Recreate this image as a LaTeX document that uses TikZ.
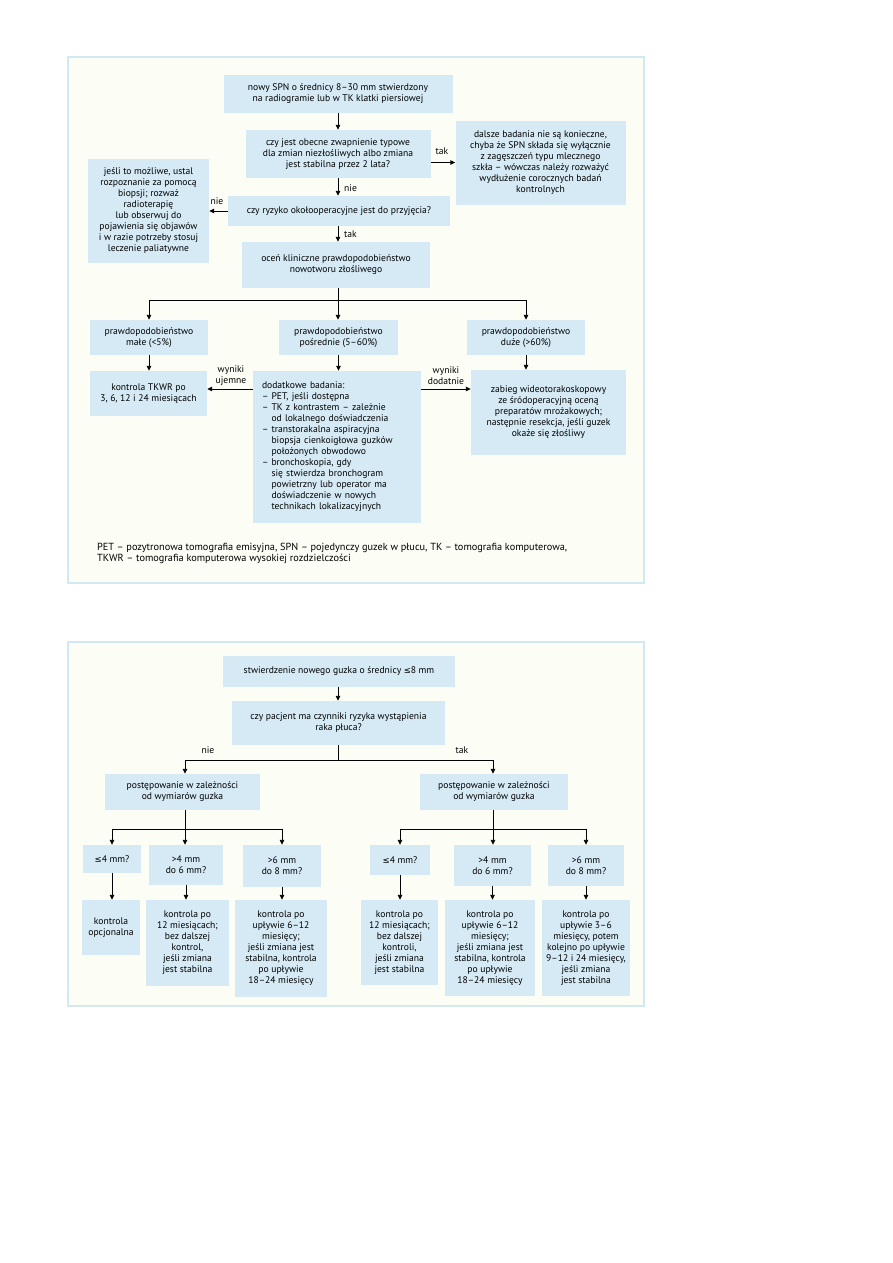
\documentclass[tikz,border=0pt]{standalone}
\usepackage{fontspec}
\setmainfont{PT Sans}
\newfontfamily\symf{DejaVu Sans}
\usetikzlibrary{arrows.meta}
\definecolor{boxblue}{HTML}{D5EAF5}
\definecolor{panelfill}{HTML}{FCFDF5}
\definecolor{panelline}{HTML}{D2E9F3}
\newcommand{\mle}{{\symf\fontsize{8.5}{10}\selectfont ≤}}
\begin{document}
\begin{tikzpicture}[x=1pt,y=-1pt,
  box/.style={fill=boxblue, inner sep=0pt, align=center, font=\fontsize{9.6}{11}\selectfont},
  lbl/.style={inner sep=0pt, align=center, font=\fontsize{9.6}{11}\selectfont},
  arr/.style={line width=0.9pt, -{Triangle[length=5pt,width=4.5pt]}},
  ln/.style={line width=0.9pt},
  panel/.style={fill=panelfill, draw=panelline, line width=2.5pt}]
\useasboundingbox (0,0) rectangle (893,1263);
\fill[white] (0,0) rectangle (893,1263);
% panels
\draw[panel] (68,57) rectangle (644,583);
\draw[panel] (68,642) rectangle (644,1006);
\coordinate (ax) at (338,0);
% ---------- panel 1 ----------
\node[box, minimum width=229pt, minimum height=38pt] (b1) at (338,94) {nowy SPN o średnicy 8–30 mm stwierdzony\\na radiogramie lub w TK klatki piersiowej};
\node[box, minimum width=185pt, minimum height=48pt] (b2) at (338,154) {czy jest obecne zwapnienie typowe\\dla zmian niezłośliwych albo zmiana\\jest stabilna przez 2 lata?};
\node[box, minimum width=170pt, minimum height=84pt] (b3) at (540.5,162.5) {dalsze badania nie są konieczne,\\chyba że SPN składa się wyłącznie\\z zagęszczeń typu mlecznego\\szkła – wówczas należy rozważyć\\wydłużenie corocznych badań\\kontrolnych};
\node[box, minimum width=222pt, minimum height=30pt] (b4) at (339,211) {czy ryzyko okołooperacyjne jest do przyjęcia?};
\node[box, minimum width=121pt, minimum height=104pt] (bL) at (148.5,210.5) {jeśli to możliwe, ustal\\rozpoznanie za pomocą\\biopsji; rozważ\\radioterapię\\lub obserwuj do\\pojawienia się objawów\\i w razie potrzeby stosuj\\leczenie paliatywne};
\node[box, minimum width=188pt, minimum height=46pt] (b5) at (336,265) {oceń kliniczne prawdopodobieństwo\\nowotworu złośliwego};
\node[box, minimum width=118pt, minimum height=35pt] (r6a) at (149,337.5) {prawdopodobieństwo\\małe (<5\%)};
\node[box, minimum width=119pt, minimum height=35pt] (r6b) at (338.5,337.5) {prawdopodobieństwo\\pośrednie (5–60\%)};
\node[box, minimum width=118pt, minimum height=35pt] (r6c) at (526,337.5) {prawdopodobieństwo\\duże (>60\%)};
\node[box, minimum width=117pt, minimum height=45pt] (r7a) at (148.5,393.5) {kontrola TKWR po\\3, 6, 12 i 24 miesiącach};
\node[box, minimum width=168pt, minimum height=152pt, text width=150pt, align=left] (r7b) at (337,447) {dodatkowe badania:\\
– PET, jeśli dostępna\\
– TK z kontrastem – zależnie\\
\phantom{– }od lokalnego doświadczenia\\
– transtorakalna aspiracyjna\\
\phantom{– }biopsja cienkoigłowa guzków\\
\phantom{– }położonych obwodowo\\
– bronchoskopia, gdy\\
\phantom{– }się stwierdza bronchogram\\
\phantom{– }powietrzny lub operator ma\\
\phantom{– }doświadczenie w nowych\\
\phantom{– }technikach lokalizacyjnych};
\node[box, minimum width=155pt, minimum height=85pt] (r7c) at (548.5,412.5) {zabieg wideotorakoskopowy\\ze śródoperacyjną oceną\\preparatów mrożakowych;\\następnie resekcja, jeśli guzek\\okaże się złośliwy};
\node[lbl, anchor=west, align=left, font=\fontsize{10.3}{11}\selectfont] (foot) at (97,553) {PET – pozytronowa tomografia emisyjna, SPN – pojedynczy guzek w płucu, TK – tomografia komputerowa,\\TKWR – tomografia komputerowa wysokiej rozdzielczości};
% connectors panel 1
\draw[arr] (b1.south -| ax) -- (b2.north -| ax);
\draw[arr] (b2.east |- b3.west) -- (b3.west);
\node[lbl] (ltak1) at (442,151) {tak};
\draw[arr] (b2.south -| ax) -- (b4.north -| ax);
\node[lbl, anchor=west] (lnie1) at (344,188) {nie};
\draw[arr] (b4.west) -- (bL.east |- b4.west);
\node[lbl] (lnie2) at (217,201) {nie};
\draw[arr] (b4.south -| ax) -- (b5.north -| ax);
\node[lbl, anchor=west] (ltak2) at (344,234) {tak};
\coordinate (br1) at (338,300);
\draw[ln] (b5.south -| ax) -- (br1);
\draw[ln] (r6a.north |- br1) -- (r6c.north |- br1);
\draw[arr] (r6a.north |- br1) -- (r6a.north);
\draw[arr] (br1) -- (r6b.north -| br1);
\draw[arr] (r6c.north |- br1) -- (r6c.north);
\draw[arr] (r6a.south) -- (r6a.south |- r7a.north);
\draw[arr] (r6b.south) -- (r6b.south |- r7b.north);
\draw[arr] (r6c.south) -- (r6c.south |- r7c.north);
\coordinate (wy) at (0,389);
\draw[arr] (r7b.west |- wy) -- (r7a.east |- wy);
\draw[arr] (r7b.east |- wy) -- (r7c.west |- wy);
\node[lbl] (lwu) at (231,376) {wyniki\\ujemne};
\node[lbl] (lwd) at (446,376) {wyniki\\dodatnie};
% ---------- panel 2 ----------
\node[box, minimum width=232pt, minimum height=31pt] (c1) at (339,671.5) {stwierdzenie nowego guzka o średnicy \mle8 mm};
\node[box, minimum width=213pt, minimum height=44pt] (c2) at (338.5,723) {czy pacjent ma czynniki ryzyka wystąpienia\\raka płuca?};
\node[box, minimum width=155pt, minimum height=36pt] (cL) at (182.5,792) {postępowanie w zależności\\od wymiarów guzka};
\node[box, minimum width=148pt, minimum height=36pt] (cR) at (494,792) {postępowanie w zależności\\od wymiarów guzka};
\node[box, minimum width=58pt, minimum height=28pt] (L1) at (112,859) {\mle4 mm?};
\node[box, minimum width=74pt, minimum height=40pt] (L2) at (186,865) {>4 mm\\do 6 mm?};
\node[box, minimum width=78pt, minimum height=42pt] (L3) at (282,866) {>6 mm\\do 8 mm?};
\node[box, minimum width=60pt, minimum height=30pt] (R1) at (400,860) {\mle4 mm?};
\node[box, minimum width=77pt, minimum height=41pt] (R2) at (492.5,865.5) {>4 mm\\do 6 mm?};
\node[box, minimum width=76pt, minimum height=41pt] (R3) at (586,865.5) {>6 mm\\do 8 mm?};
\node[box, minimum width=58pt, minimum height=55pt] (M1) at (111,927.5) {kontrola\\opcjonalna};
\node[box, minimum width=83pt, minimum height=86pt] (M2) at (187.5,943) {kontrola po\\12 miesiącach;\\bez dalszej\\kontrol,\\jeśli zmiana\\jest stabilna};
\node[box, minimum width=92pt, minimum height=97pt] (M3) at (281,948.5) {kontrola po\\upływie 6–12\\miesięcy;\\jeśli zmiana jest\\stabilna, kontrola\\po upływie\\18–24 miesięcy};
\node[box, minimum width=77pt, minimum height=85pt] (S1) at (399.5,942.5) {kontrola po\\12 miesiącach;\\bez dalszej\\kontroli,\\jeśli zmiana\\jest stabilna};
\node[box, minimum width=90pt, minimum height=96pt] (S2) at (490,948) {kontrola po\\upływie 6–12\\miesięcy;\\jeśli zmiana jest\\stabilna, kontrola\\po upływie\\18–24 miesięcy};
\node[box, minimum width=88pt, minimum height=96pt] (S3) at (586,948) {kontrola po\\upływie 3–6\\miesięcy, potem\\kolejno po upływie\\9–12 i 24 miesięcy,\\jeśli zmiana\\jest stabilna};
% connectors panel 2
\draw[arr] (c1.south -| ax) -- (c2.north -| ax);
\coordinate (br2) at (338,760);
\coordinate (bl) at (185,760);
\coordinate (brr) at (493,760);
\draw[ln] (c2.south -| ax) -- (br2);
\draw[ln] (bl) -- (brr);
\draw[arr] (bl) -- (bl |- cL.north);
\draw[arr] (brr) -- (brr |- cR.north);
\node[lbl] (lnie3) at (208,750) {nie};
\node[lbl] (ltak3) at (462,750) {tak};
\coordinate (sl) at (185,829);
\draw[ln] (cL.south -| sl) -- (sl);
\draw[ln] (L1.north |- sl) -- (L3.north |- sl);
\draw[arr] (L1.north |- sl) -- (L1.north);
\draw[arr] (sl) -- (sl |- L2.north);
\draw[arr] (L3.north |- sl) -- (L3.north);
\coordinate (sr) at (493,829);
\draw[ln] (cR.south -| sr) -- (sr);
\draw[ln] (R1.north |- sr) -- (R3.north |- sr);
\draw[arr] (R1.north |- sr) -- (R1.north);
\draw[arr] (sr) -- (sr |- R2.north);
\draw[arr] (R3.north |- sr) -- (R3.north);
\draw[arr] (L1.south) -- (L1.south |- M1.north);
\draw[arr] (L2.south) -- (L2.south |- M2.north);
\draw[arr] (L3.south) -- (L3.south |- M3.north);
\draw[arr] (R1.south) -- (R1.south |- S1.north);
\draw[arr] (R2.south) -- (R2.south |- S2.north);
\draw[arr] (R3.south) -- (R3.south |- S3.north);
\end{tikzpicture}
\end{document}
